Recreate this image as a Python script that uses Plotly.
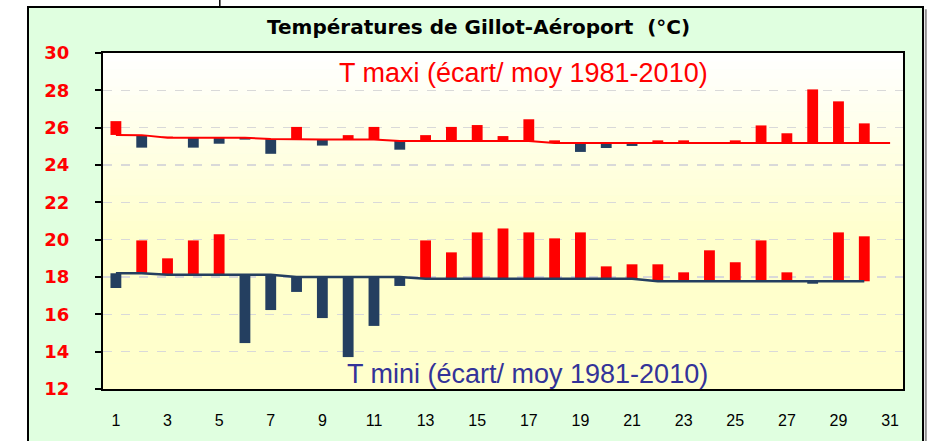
import plotly.graph_objects as go

days = list(range(1, 32))
tick_days = list(range(1, 32, 2))
y_ticks = list(range(12, 31, 2))

tmax = [26.35, 24.93, 25.52, 24.93, 25.14, 25.36, 24.6, 26.04, 25.04, 25.6,
        26.04, 24.82, 25.6, 26.04, 26.14, 25.55, 26.45, 25.32, 24.70, 24.91,
        25.02, 25.32, 25.32, 25.22, 25.32, 26.12, 25.7, 28.05, 27.41, 26.23]
tmax_normal = [25.61, 25.6, 25.46, 25.46, 25.46, 25.46, 25.39, 25.37, 25.37, 25.37,
               25.37, 25.29, 25.29, 25.29, 25.29, 25.29, 25.29, 25.18, 25.18, 25.18,
               25.18, 25.18, 25.18, 25.18, 25.18, 25.18, 25.18, 25.18, 25.18, 25.18,
               25.18]
tmin = [17.41, 19.96, 19.0, 19.96, 20.29, 14.46, 16.23, 17.2, 15.8, 13.71,
        15.38, 17.52, 19.96, 19.32, 20.39, 20.6, 20.39, 20.07, 20.39, 18.57,
        18.68, 18.68, 18.25, 19.43, 18.79, 19.96, 18.25, 17.64, 20.39, 20.18]
tmin_normal = [18.2, 18.2, 18.12, 18.12, 18.12, 18.12, 18.12, 18.0, 18.0, 18.0,
               18.0, 18.0, 17.91, 17.91, 17.91, 17.91, 17.91, 17.91, 17.91, 17.91,
               17.91, 17.77, 17.77, 17.77, 17.77, 17.77, 17.77, 17.77, 17.77, 17.77]

title_text = "Températures de Gillot-Aéroport  (°C)"
label_max = "T maxi (écart/ moy 1981-2010)"
label_min = "T mini (écart/ moy 1981-2010)"

RED = "#FF0000"
NAVY = "#243F60"

n = len(tmax)
data_days = days[:n]

def anomaly(vals, norms):
    diffs = [v - b for v, b in zip(vals, norms)]
    cols = [RED if d >= 0 else NAVY for d in diffs]
    return diffs, cols

dmax, cmax = anomaly(tmax, tmax_normal[:n])
dmin, cmin = anomaly(tmin, tmin_normal[:n])

fig = go.Figure()
fig.add_trace(go.Bar(x=data_days, y=dmax, base=tmax_normal[:n], marker=dict(color=cmax, line=dict(width=0)), width=0.42))
fig.add_trace(go.Bar(x=data_days, y=dmin, base=tmin_normal[:n], marker=dict(color=cmin, line=dict(width=0)), width=0.42))
fig.add_trace(go.Scatter(x=days[:len(tmax_normal)], y=tmax_normal, mode="lines", line=dict(color=RED, width=2)))
fig.add_trace(go.Scatter(x=days[:len(tmin_normal)], y=tmin_normal, mode="lines", line=dict(color=NAVY, width=2.5)))

shapes = []
# outer frame
shapes.append(dict(type="rect", xref="paper", yref="paper", x0=-0.09375, x1=1.025, y0=-0.3, y1=1.1369,
                   fillcolor="#E0FFE0", line=dict(color="black", width=2), layer="below"))
shapes.append(dict(type="line", xref="paper", yref="paper", x0=1.0285, x1=1.0285, y0=-0.3, y1=1.13,
                   line=dict(color="#909090", width=2), layer="below"))
shapes.append(dict(type="line", xref="paper", yref="paper", x0=0.146, x1=0.146, y0=1.14, y1=1.2,
                   line=dict(color="black", width=1.5), layer="below"))
# gradient plot background (white top -> light yellow)
nb = 40
for i in range(nb):
    y0 = i / nb
    y1 = (i + 1) / nb
    mid = (y0 + y1) / 2
    t = (1 - mid) / 0.55
    t = max(0.0, min(1.0, t))
    b = int(round(255 - t * (255 - 204)))
    shapes.append(dict(type="rect", xref="paper", yref="paper", x0=0, x1=1, y0=y0, y1=y1 + 0.002,
                       fillcolor=f"rgb(255,255,{b})", line=dict(width=0), layer="below"))

annotations = [
    dict(text=title_text, xref="paper", yref="paper", x=0.469, y=1.076, showarrow=False,
         xanchor="center", yanchor="middle", font=dict(family="DejaVu Sans", size=20, color="black", weight="bold")),
    dict(text=label_max, xref="paper", yref="paper", x=0.525, y=0.9405, showarrow=False,
         xanchor="center", yanchor="middle", font=dict(family="Liberation Sans", size=27, color=RED)),
    dict(text=label_min, xref="paper", yref="paper", x=0.531, y=0.046, showarrow=False,
         xanchor="center", yanchor="middle", font=dict(family="Liberation Sans", size=27, color="#333399")),
]

fig.update_layout(
    width=937, height=441,
    margin=dict(l=103, r=34, t=53, b=52),
    paper_bgcolor="white", plot_bgcolor="rgba(0,0,0,0)",
    showlegend=False, barmode="overlay", hovermode=False,
    shapes=shapes, annotations=annotations,
)
fig.update_xaxes(range=[0.5, 31.5], tickvals=tick_days, ticktext=[str(d) for d in tick_days],
                 showgrid=False, zeroline=False, showline=True, linecolor="black", linewidth=2, mirror=True,
                 ticks="", ticklabelstandoff=16,
                 tickfont=dict(family="Liberation Sans", size=16, color="black"))
fig.update_yaxes(range=[12, 30], tickvals=y_ticks, showgrid=True, gridcolor="#D9D9D9", gridwidth=1.5,
                 griddash="dash", zeroline=False, showline=True, linecolor="black", linewidth=2, mirror=True,
                 ticks="outside", ticklen=6, tickcolor="black", tickwidth=2, ticklabelstandoff=22,
                 tickfont=dict(family="DejaVu Sans", size=18, color=RED, weight="bold"))

fig.write_html("out.html", config={"displayModeBar": False, "staticPlot": True},
               post_script="document.body.style.margin='0';document.body.style.overflow='hidden';")
